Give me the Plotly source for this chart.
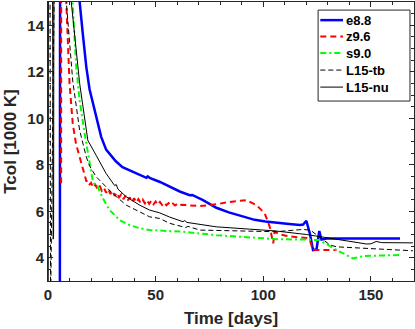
import plotly.graph_objects as go

# ---- data (days, Tcol in 1000 K) ----
e88_t = [5.5, 5.8, 10, 14.7, 16.2, 17.8, 19.3, 22.4, 24.7, 27, 28.6, 31.5, 34.6, 38, 41, 45.7, 46.3,
         47.5, 52, 56.5, 61.2, 65.8, 67, 72, 78.2, 84, 90.6, 96, 101, 106, 112, 117, 118.5, 120,
         121.6, 123.1, 124.7, 126, 127, 129.4, 140, 150, 163.5]
e88_y = [1.0, 40, 24, 15, 13.6, 12.2, 11.25, 10.05, 9.2, 8.65, 8.48, 8.15, 7.9, 7.75, 7.62, 7.44, 7.5,
         7.42, 7.26, 7.05, 6.85, 6.69, 6.7, 6.48, 6.15, 5.95, 5.78, 5.63, 5.56, 5.5, 5.45, 5.41, 5.43, 5.59,
         5.05, 4.33, 4.35, 5.15, 4.78, 4.83, 4.83, 4.83, 4.83]

z96_t = [6.1, 6.2, 7.5, 8.5, 10, 11.5, 13, 14.7, 16, 17.8,
         18, 19, 20, 21, 22, 23, 24, 25, 26, 27, 28, 29, 30, 31, 32, 33, 34, 35, 36, 37, 38, 39, 40,
         41, 42, 43, 44, 45, 46, 47, 48, 49, 50, 51, 52, 53, 54, 55, 56, 57, 58, 59, 60, 61, 62,
         66, 70.5, 78.2, 84.4, 92.2, 96.9, 100.7, 103, 104.6, 105.3, 107.7, 112, 120, 121.6, 123.1, 134]
z96_y = [7.2, 40, 30, 15, 11.5, 9.77, 8.9, 8.33, 7.8, 7.3,
         7.30, 7.12, 7.22, 7.02, 7.14, 6.96, 7.10, 6.88, 7.00, 6.80, 6.95, 6.74, 6.88, 6.66, 6.80, 6.60,
         6.72, 6.52, 6.66, 6.46, 6.60, 6.40, 6.56, 6.38, 6.52, 6.36, 6.50, 6.34, 6.48, 6.32, 6.45, 6.30,
         6.42, 6.28, 6.40, 6.27, 6.37, 6.26, 6.35, 6.25, 6.33, 6.25, 6.31, 6.24, 6.28,
         6.24, 6.22, 6.3, 6.4, 6.48, 6.26, 5.9, 5.33, 4.62, 5.12, 5.0, 4.92, 4.85, 4.76, 4.33, 4.33]

s90_t = [10.5, 11.4, 13.1, 14.7, 17, 18.5, 19.3, 20.8, 22, 23, 24, 25.5, 28.6, 33.3, 37.9, 42.6, 47.2,
         52, 62.7, 78.2, 93.7, 103, 106, 120, 126, 130, 134, 138, 141.6, 146.4, 163.5]
s90_y = [25, 15, 12.2, 10.77, 9.35, 8.5, 8.19, 7.3, 7.1, 7.08, 6.85, 6.55, 6.05, 5.62, 5.4, 5.27, 5.19,
         5.16, 5.12, 4.97, 4.88, 4.8, 4.8, 4.78, 4.76, 4.55, 4.33, 4.15, 3.97, 4.07, 4.12]

l15tb_t = [0.5, 1.2, 1.9, 6, 8.5, 11.5, 14.7, 17.8, 19.3, 22.4, 24, 30.1, 36.4, 42.6, 47.2, 51.9, 56.5,
           64, 65, 70.5, 85.9, 106, 118.5, 122, 126, 131, 134, 150, 169.5]
l15tb_y = [40, 2.0, 40, 40, 15, 11.6, 9.48, 8.33, 7.95, 7.48, 7.33, 6.76, 6.26, 5.97, 5.76, 5.69, 5.48,
           5.3, 5.35, 5.19, 5.15, 5.12, 5.22, 5.18, 4.9, 4.55, 4.47, 4.38, 4.3]

l15nu_t = [0.1, 0.35, 1.5, 2.0, 2.4, 2.6, 3.0, 8, 10.8, 14.7, 18.5, 22.4, 27, 31, 31.7, 32.5, 36.4, 42.6,
           47.2, 51.9, 56.5, 62.7, 63.5, 64.5, 78.2, 93.7, 106, 120, 130, 148, 150, 152.4, 155, 169.5]
l15nu_y = [2.0, 40, 40, 15, 4.8, 5.0, 40, 40, 15, 11.5, 9.05, 8.4, 7.62, 7.1, 7.15, 6.95, 6.62, 6.26,
           6.05, 5.93, 5.75, 5.55, 5.6, 5.52, 5.33, 5.23, 5.15, 5.0, 4.85, 4.59, 4.6, 4.7, 4.65, 4.64]

names = ["e8.8", "z9.6", "s9.0", "L15-tb", "L15-nu"]
x_ticks = [0, 50, 100, 150]
y_ticks = [4, 6, 8, 10, 12, 14]

FONT = "Liberation Sans, Arial, sans-serif"
AX = "#262626"

styles = [
    dict(color="#0000ff", width=2.5),
    dict(color="#ff0000", width=2, dash="6px,4px"),
    dict(color="#00ff00", width=2, dash="6px,3px,2px,3px"),
    dict(color="#000000", width=1, dash="5px,3px"),
    dict(color="#000000", width=1),
]
series = [(e88_t, e88_y), (z96_t, z96_y), (s90_t, s90_y), (l15tb_t, l15tb_y), (l15nu_t, l15nu_y)]

fig = go.Figure()
for (t, y), nm, st in zip(series, names, styles):
    fig.add_trace(go.Scatter(x=t, y=y, name=nm, mode="lines", line=st, showlegend=False))

# ---- compact MATLAB-like legend (paper coordinates of the plot area) ----
leg_x0, leg_x1, leg_y0, leg_y1 = 0.738, 0.989, 0.645, 0.971
item_y = [0.935, 0.876, 0.817, 0.756, 0.695]
fig.add_shape(type="rect", xref="paper", yref="paper", x0=leg_x0, x1=leg_x1, y0=leg_y0, y1=leg_y1,
              line=dict(color=AX, width=1), fillcolor="white", layer="above")
for nm, st, yy in zip(names, styles, item_y):
    fig.add_shape(type="line", xref="paper", yref="paper", x0=0.744, x1=0.806, y0=yy, y1=yy,
                  line=st, layer="above")
    fig.add_annotation(xref="paper", yref="paper", x=0.810, y=yy, text=nm, showarrow=False,
                       xanchor="left", yanchor="middle",
                       font=dict(family=FONT, size=13, color="#000000", weight="bold"))

axis_common = dict(
    showline=True, linecolor=AX, linewidth=1, mirror="ticks",
    ticks="inside", ticklen=5, tickcolor=AX, showgrid=False, zeroline=False,
    tickfont=dict(family=FONT, size=15, color=AX, weight="bold"),
)

fig.update_layout(
    width=415, height=329,
    margin=dict(l=48, r=1, t=2, b=48),
    paper_bgcolor="white", plot_bgcolor="white",
    showlegend=False,
    xaxis=dict(range=[0, 170], tickvals=x_ticks,
               minor=dict(dtick=10, tick0=0, ticks="inside", ticklen=3, tickcolor=AX),
               title=dict(text="Time [days]", standoff=10,
                          font=dict(family=FONT, size=17, color=AX, weight="bold")),
               **axis_common),
    yaxis=dict(range=[3, 15], tickvals=y_ticks,
               minor=dict(dtick=0.5, tick0=3, ticks="inside", ticklen=3, tickcolor=AX),
               title=dict(text="Tcol [1000 K]", standoff=6,
                          font=dict(family=FONT, size=17, color=AX, weight="bold")),
               **axis_common),
)

fig.write_html("out.html", config={"displayModeBar": False},
               post_script="document.body.style.margin='0';")
